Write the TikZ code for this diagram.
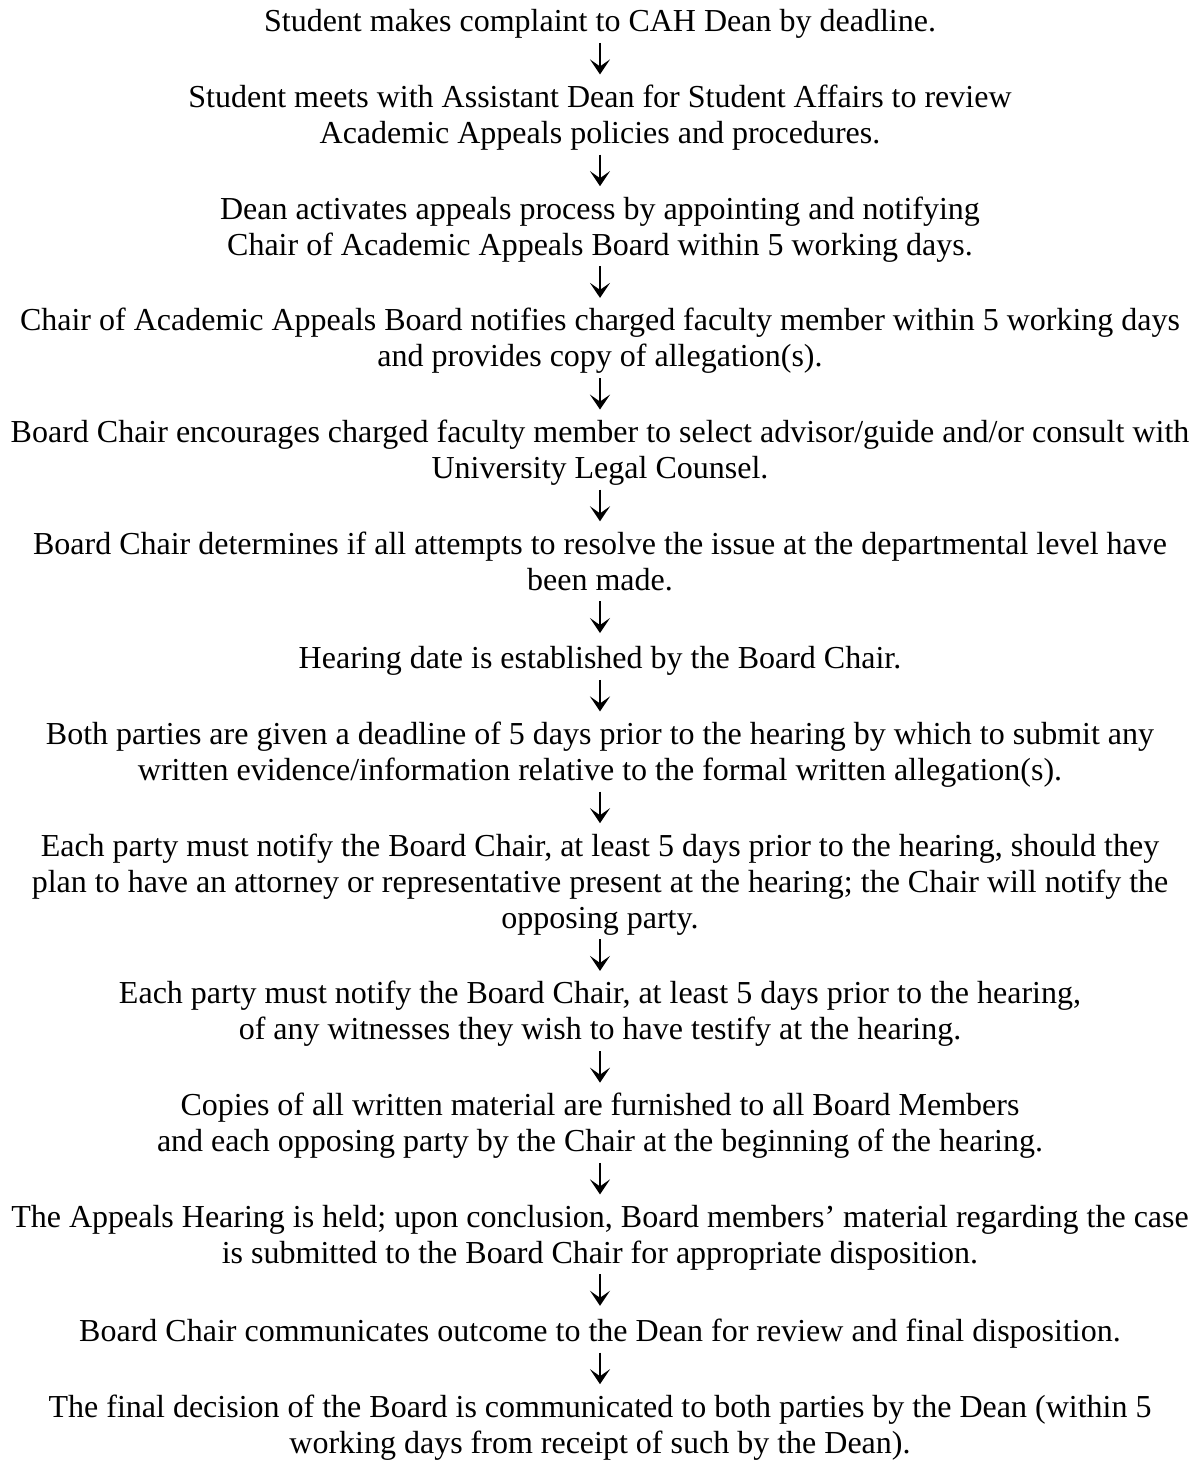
\documentclass[tikz,border=0pt]{standalone}
\usepackage{fontspec}
\setmainfont{Liberation Serif}
\usepackage{tikz}
\usetikzlibrary{positioning,arrows.meta}

\begin{document}
\begin{tikzpicture}[
    stage/.style={inner sep=0pt, align=center,
        font=\fontsize{16}{18}\selectfont,
        execute at begin node=\strut, execute at end node=\strut},
    flow/.style={-{Stealth[length=7.5pt,width=10pt,inset=3.5pt]}, line width=1pt, shorten >=5pt},
    node distance=20.8pt
]
\useasboundingbox (0,0) rectangle (600pt,-732pt);

\node[stage, anchor=north] (st1) at (300pt,-3pt) {Student makes complaint to CAH Dean by deadline.};
\node[stage, below=of st1] (st2) {Student meets with Assistant Dean for Student Affairs to review\\
    Academic Appeals policies and procedures.};
\node[stage, below=of st2] (st3) {Dean activates appeals process by appointing and notifying\\
    Chair of Academic Appeals Board within 5 working days.};
\node[stage, below=of st3] (st4) {Chair of Academic Appeals Board notifies charged faculty member within 5 working days\\
    and provides copy of allegation(s).};
\node[stage, below=of st4] (st5) {Board Chair encourages charged faculty member to select advisor/guide and/or consult with\\
    University Legal Counsel.};
\node[stage, below=of st5] (st6) {Board Chair determines if all attempts to resolve the issue at the departmental level have\\
    been made.};
\node[stage, below=of st6] (st7) {Hearing date is established by the Board Chair.};
\node[stage, below=of st7] (st8) {Both parties are given a deadline of 5 days prior to the hearing by which to submit any\\
    written evidence/information relative to the formal written allegation(s).};
\node[stage, below=of st8] (st9) {Each party must notify the Board Chair, at least 5 days prior to the hearing, should they\\
    plan to have an attorney or representative present at the hearing; the Chair will notify the\\
    opposing party.};
\node[stage, below=of st9] (st10) {Each party must notify the Board Chair, at least 5 days prior to the hearing,\\
    of any witnesses they wish to have testify at the hearing.};
\node[stage, below=of st10] (st11) {Copies of all written material are furnished to all Board Members\\
    and each opposing party by the Chair at the beginning of the hearing.};
\node[stage, below=of st11] (st12) {The Appeals Hearing is held; upon conclusion, Board members’ material regarding the case\\
    is submitted to the Board Chair for appropriate disposition.};
\node[stage, below=of st12] (st13) {Board Chair communicates outcome to the Dean for review and final disposition.};
\node[stage, below=of st13] (st14) {The final decision of the Board is communicated to both parties by the Dean (within 5\\
    working days from receipt of such by the Dean).};

\foreach \i [count=\j from 2] in {1,...,13}
    \draw[flow] (st\i) -- (st\j);

\end{tikzpicture}
\end{document}
